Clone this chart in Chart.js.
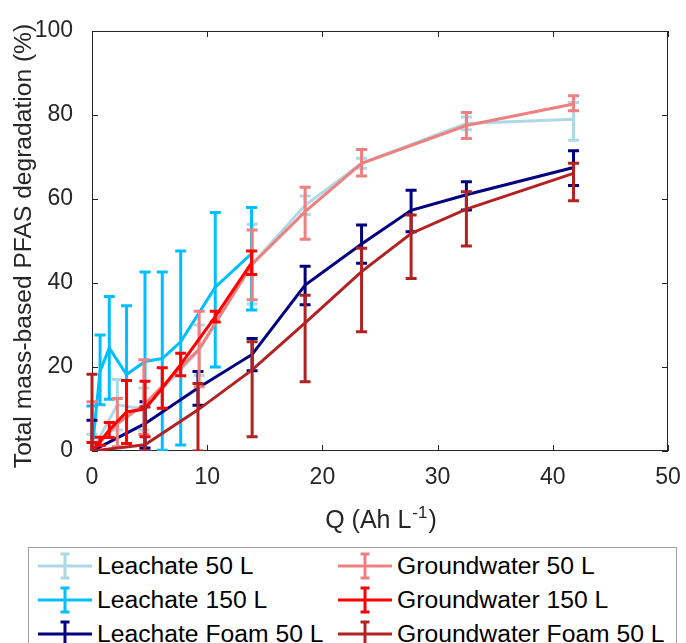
<!DOCTYPE html>
<html>
<head>
<meta charset="utf-8">
<script src="https://cdn.jsdelivr.net/npm/chart.js@4.4.1/dist/chart.umd.min.js"></script>
<style>
  body { margin: 0; background: #fff; font-family: "Liberation Sans", Arial, sans-serif; }
  #wrap { position: relative; width: 686px; height: 643px; overflow: hidden; }
  #chart { position: absolute; left: 0; top: 0; }
  #legend {
    position: absolute; left: 28px; top: 547px; width: 649px; height: 130px;
    border: 1px solid #a0a0a0; background: #fff; box-sizing: border-box;
  }
  #legend ul {
    list-style: none; margin: 0; padding: 1px 0 0 0;
    display: grid; grid-auto-flow: column;
    grid-template-rows: repeat(3, 34px); grid-template-columns: 300px 340px;
  }
  #legend li { display: flex; align-items: center; font-size: 24.7px; color: #000; white-space: nowrap; }
  #legend svg { margin-left: 9px; margin-right: 5px; flex: none; }
</style>
</head>
<body>
<div id="wrap">
  <canvas id="chart" width="686" height="643"></canvas>
  <div id="legend"></div>
</div>
<script>
// x positions (charge passed, Ah/L)
const q50 = [0, 2.2, 4.5, 9.3, 13.9, 18.5, 23.4, 32.5, 41.8];
const q150 = [0, 0.7, 1.5, 3.0, 4.6, 6.1, 7.7, 10.7, 13.85];
const qFoam = [0, 4.6, 9.2, 13.9, 18.5, 23.4, 27.7, 32.5, 41.8];

// Leachate 50 L
const leach50 = [0, 11, 10, 24, 44.5, 58.5, 68.5, 78, 79];
const leach50Up = [4, 6, 5, 6, 9.5, 2.2, 1.2, 1.5, 4];
const leach50Down = [4, 6, 5, 6, 9.5, 2.2, 1.2, 1.5, 5];

// Leachate 150 L
const leach150 = [0, 19, 24.5, 18.2, 21.3, 22, 26, 39, 47];
const leach150Up = [10.7, 8.6, 12.3, 16.4, 21.3, 20.6, 21.6, 17.8, 11];
const leach150Down = [10.7, 8, 12.2, 16.4, 21.3, 21.8, 24.6, 19, 13.4];

// Leachate Foam 50 L
const leachFoam = [0, 6.5, 15, 23, 39.5, 49.3, 57.3, 61, 67.5];
const leachFoamUp = [7.3, 5.2, 3.9, 3.8, 4.5, 4.5, 4.8, 3.1, 4];
const leachFoamDown = [7.3, 5.8, 4.1, 3.9, 4.7, 4.6, 5.1, 3.6, 4.3];

// Groundwater 50 L
const gw50 = [0, 6.5, 11, 24.3, 44.5, 57, 68.5, 77.5, 82.6];
const gw50Up = [11.7, 6, 10.7, 9, 8.1, 5.8, 3.3, 3.1, 2];
const gw50Down = [11.7, 5.5, 7, 9, 8.5, 6.6, 3, 3.1, 1.6];

// Groundwater 150 L
const gw150 = [0, 2.3, 5, 9.3, 10, 15, 20.6, 32, 44.8];
const gw150Up = [2, 1, 1.8, 7.5, 6.6, 4.8, 2.7, 1.3, 2.8];
const gw150Down = [2, 1, 1.8, 7.5, 6.6, 4.8, 2.7, 1.3, 2.8];

// Groundwater Foam 50 L
const gwFoam = [0, 1.5, 9.8, 19.3, 30.5, 42.7, 51.8, 57.6, 66.1];
const gwFoamUp = [18.3, 9, 6.3, 6.7, 6.6, 5.6, 4.4, 4.1, 2.4];
const gwFoamDown = [18.3, 1.5, 9.8, 15.9, 14, 14.3, 10.7, 8.8, 6.5];

const xTicks = [0, 10, 20, 30, 40, 50];
const yTicks = [0, 20, 40, 60, 80, 100];

Chart.defaults.font.family = "'Liberation Sans', Arial, sans-serif";

function points(xs, ys) {
  return xs.map((x, i) => ({ x: x, y: ys[i] }));
}

function series(label, color, xs, ys, up, down, idx) {
  return {
    label: label,
    data: points(xs, ys),
    errUp: up,
    errDown: down,
    borderColor: color,
    backgroundColor: color,
    borderWidth: 3,
    pointRadius: 0,
    tension: 0,
    order: 10 - idx, // first series at the bottom, like the original plot order
  };
}

// error bars drawn right after each line so layering stays per series
const errorBarPlugin = {
  id: "errorBars",
  afterDatasetDraw(chart, args) {
    const ds = chart.data.datasets[args.index];
    if (!ds.errUp) return;
    const xs = chart.scales.x, ys = chart.scales.y, ctx = chart.ctx, a = chart.chartArea;
    const cap = 5.5;
    ctx.save();
    ctx.beginPath();
    ctx.rect(a.left - 20, a.top - 2, a.right - a.left + 40, a.bottom - a.top + 2);
    ctx.clip();
    ctx.strokeStyle = ds.borderColor;
    ctx.lineWidth = 3;
    ds.data.forEach((p, i) => {
      const x = xs.getPixelForValue(p.x);
      const yTop = ys.getPixelForValue(p.y + ds.errUp[i]);
      const yBot = ys.getPixelForValue(p.y - ds.errDown[i]);
      ctx.beginPath();
      ctx.moveTo(x, yTop); ctx.lineTo(x, yBot);
      ctx.moveTo(x - cap, yTop); ctx.lineTo(x + cap, yTop);
      ctx.moveTo(x - cap, yBot); ctx.lineTo(x + cap, yBot);
      ctx.stroke();
    });
    ctx.restore();
  },
};

// matlab style box with inward ticks on all four sides
const axesBoxPlugin = {
  id: "axesBox",
  beforeDatasetsDraw(chart) {
    const { ctx, chartArea: a, scales } = chart;
    const len = 6;
    ctx.save();
    ctx.strokeStyle = "#262626";
    ctx.lineWidth = 1;
    ctx.strokeRect(a.left + 0.5, a.top + 0.5, a.right - a.left - 1, a.bottom - a.top - 1);
    ctx.beginPath();
    xTicks.forEach((v) => {
      const x = Math.round(scales.x.getPixelForValue(v)) + 0.5;
      ctx.moveTo(x, a.bottom); ctx.lineTo(x, a.bottom - len);
      ctx.moveTo(x, a.top); ctx.lineTo(x, a.top + len);
    });
    yTicks.forEach((v) => {
      const y = Math.round(scales.y.getPixelForValue(v)) + 0.5;
      ctx.moveTo(a.left, y); ctx.lineTo(a.left + len, y);
      ctx.moveTo(a.right, y); ctx.lineTo(a.right - len, y);
    });
    ctx.stroke();
    ctx.restore();
  },
  afterDraw(chart) {
    const { ctx, chartArea: a } = chart;
    ctx.save();
    ctx.fillStyle = "#262626";
    ctx.textBaseline = "alphabetic";

    // x axis title with superscript
    const big = "25px 'Liberation Sans', Arial, sans-serif";
    const small = "17px 'Liberation Sans', Arial, sans-serif";
    const p1 = "Q (Ah L", p2 = "-1", p3 = ")";
    ctx.font = big;
    const w1 = ctx.measureText(p1).width, w3 = ctx.measureText(p3).width;
    ctx.font = small;
    const w2 = ctx.measureText(p2).width;
    let x = (a.left + a.right) / 2 - (w1 + w2 + w3) / 2;
    const base = a.bottom + 77;
    ctx.textAlign = "left";
    ctx.font = big;
    ctx.fillText(p1, x, base);
    ctx.font = small;
    ctx.fillText(p2, x + w1 + 1, base - 10);
    ctx.font = big;
    ctx.fillText(p3, x + w1 + w2 + 2, base);

    // y axis title
    ctx.translate(a.left - 61, (a.top + a.bottom) / 2 + 5);
    ctx.rotate(-Math.PI / 2);
    ctx.textAlign = "center";
    ctx.font = "24.6px 'Liberation Sans', Arial, sans-serif";
    ctx.fillText("Total mass-based PFAS degradation (%)", 0, 0);
    ctx.restore();
  },
};

// legend in two columns, filled column by column
const htmlLegendPlugin = {
  id: "htmlLegend",
  afterUpdate(chart) {
    const box = document.getElementById("legend");
    box.innerHTML = "";
    const ul = document.createElement("ul");
    chart.data.datasets.forEach((ds) => {
      const c = ds.borderColor;
      const li = document.createElement("li");
      li.innerHTML =
        '<svg width="54" height="30">' +
        '<line x1="0" y1="15" x2="54" y2="15" stroke="' + c + '" stroke-width="3"/>' +
        '<line x1="27" y1="3" x2="27" y2="27" stroke="' + c + '" stroke-width="3"/>' +
        '<line x1="22.5" y1="3" x2="31.5" y2="3" stroke="' + c + '" stroke-width="3"/>' +
        '<line x1="22.5" y1="27" x2="31.5" y2="27" stroke="' + c + '" stroke-width="3"/>' +
        "</svg>";
      const span = document.createElement("span");
      span.textContent = ds.label;
      li.appendChild(span);
      ul.appendChild(li);
    });
    box.appendChild(ul);
  },
};

const tickFont = { size: 23, family: "'Liberation Sans', Arial, sans-serif" };

new Chart(document.getElementById("chart"), {
  type: "line",
  data: {
    datasets: [
      series("Leachate 50 L", "#add8e6", q50, leach50, leach50Up, leach50Down, 0),
      series("Leachate 150 L", "#00bfff", q150, leach150, leach150Up, leach150Down, 1),
      series("Leachate Foam 50 L", "#000080", qFoam, leachFoam, leachFoamUp, leachFoamDown, 2),
      series("Groundwater 50 L", "#f08080", q50, gw50, gw50Up, gw50Down, 3),
      series("Groundwater 150 L", "#ff0000", q150, gw150, gw150Up, gw150Down, 4),
      series("Groundwater Foam 50 L", "#b22222", qFoam, gwFoam, gwFoamUp, gwFoamDown, 5),
    ],
  },
  options: {
    responsive: false,
    animation: false,
    layout: { padding: { top: 31, right: 18, left: 0, bottom: 0 } },
    scales: {
      x: {
        type: "linear",
        min: 0,
        max: 50,
        ticks: { stepSize: 10, font: tickFont, color: "#262626", padding: 5, maxRotation: 0 },
        grid: { display: false },
        border: { display: false },
        afterFit(scale) {
          scale.height = 192;
          scale.paddingLeft = 0;
          scale.paddingRight = 0;
        },
      },
      y: {
        min: 0,
        max: 100,
        ticks: { stepSize: 20, font: tickFont, color: "#262626", padding: 11 },
        grid: { display: false },
        border: { display: false },
        afterFit(scale) {
          scale.width = 92;
          scale.paddingTop = 0;
          scale.paddingBottom = 0;
        },
      },
    },
    plugins: {
      legend: { display: false },
      tooltip: { enabled: false },
    },
  },
  plugins: [errorBarPlugin, axesBoxPlugin, htmlLegendPlugin],
});
</script>
</body>
</html>
